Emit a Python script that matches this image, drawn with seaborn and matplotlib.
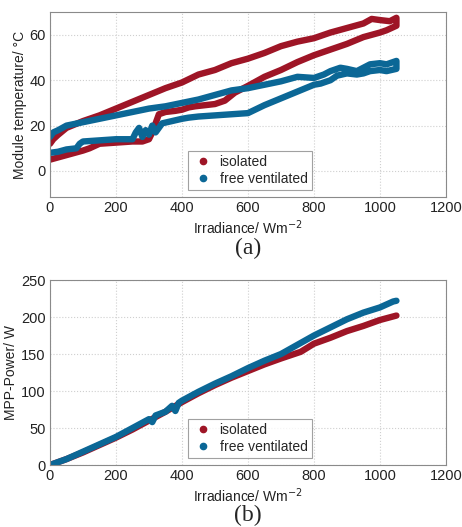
import matplotlib
matplotlib.use("Agg")
import matplotlib.pyplot as plt
import seaborn as sns
import pandas as pd
from matplotlib.lines import Line2D

# ---- data ----
# Module temperature, isolated: rising branch then falling branch
iso_up_x = [0, 10, 25, 50, 100, 150, 200, 250, 300, 350, 400, 450, 500, 550, 600, 650, 700, 750, 800, 850, 900, 950, 975, 1000, 1030, 1050]
iso_up_y = [12, 14, 16, 19, 22, 24.5, 27.5, 30.5, 33.5, 36.5, 39, 42.5, 44.5, 47.5, 49.5, 52, 55, 57, 58.5, 61, 63, 65, 67, 66.5, 66, 67.5]
iso_dn_x = [1050, 1020, 1000, 950, 900, 850, 800, 750, 700, 650, 600, 560, 530, 500, 470, 440, 420, 400, 380, 350, 330, 320, 310, 300, 280, 250, 200, 150, 120, 100, 50, 25, 0]
iso_dn_y = [64, 62, 61, 59, 56, 53.5, 51, 48, 44.5, 41.5, 37.5, 34.5, 31, 29.5, 29, 28.5, 28, 27, 26.5, 26, 25, 21, 17, 14, 13, 13, 12.5, 12, 10, 9, 7, 6, 5]

# Module temperature, free ventilated
fv_up_x = [0, 10, 25, 50, 100, 150, 200, 250, 300, 350, 400, 450, 500, 550, 600, 650, 700, 750, 800, 830, 850, 880, 900, 930, 950, 970, 1000, 1020, 1050]
fv_up_y = [15, 17, 18, 20, 21.5, 23, 24.5, 26, 27.5, 28.5, 30, 31.5, 33.5, 35.5, 36.5, 38, 39.5, 41.5, 41, 42.5, 44, 45.5, 45, 44, 45.5, 47, 47.5, 47, 48.5]
fv_dn_x = [1050, 1020, 1000, 970, 950, 930, 900, 870, 850, 820, 800, 750, 700, 650, 600, 550, 500, 450, 420, 400, 370, 340, 330, 320, 310, 300, 290, 280, 270, 260, 250, 200, 150, 100, 90, 80, 50, 25, 0]
fv_dn_y = [45, 44, 44.5, 44, 43, 42.5, 43, 42, 40, 38.5, 38, 35, 32, 29, 25.5, 25, 24.5, 24, 23.5, 23, 22, 21, 19, 17, 20, 16, 18, 15, 19, 17, 14, 14, 13.5, 13, 12, 10, 9.5, 8.5, 8]

# MPP power
p_iso_x = [0, 50, 100, 150, 200, 250, 300, 350, 400, 450, 500, 550, 600, 650, 700, 760, 800, 850, 900, 950, 1000, 1050]
p_iso_y = [0, 8, 17, 27, 37, 48, 60, 72, 85, 97, 108, 118, 127, 136, 144, 153, 164, 172, 181, 188, 196, 202]
p_fv_x = [0, 50, 100, 150, 200, 250, 300, 310, 320, 350, 370, 380, 390, 400, 450, 500, 550, 600, 650, 700, 760, 800, 850, 900, 950, 1000, 1040, 1050]
p_fv_y = [0, 8, 18, 28, 38, 50, 62, 58, 67, 72, 80, 73, 84, 87, 99, 110, 120, 131, 141, 150, 165, 175, 186, 197, 206, 213, 221, 222]

labels = ["isolated", "free ventilated"]
RED = "#9E1526"
BLUE = "#0B6796"

sns.set_style("whitegrid")
plt.rcParams["font.family"] = ["Liberation Sans", "DejaVu Sans"]

fig = plt.figure(figsize=(4.62, 5.27), dpi=100)
ax1 = fig.add_axes([0.1082, 0.626, 0.857, 0.351])
ax2 = fig.add_axes([0.1082, 0.1176, 0.857, 0.351])

LW = 4.6
def draw(ax, x, y, color):
    df = pd.DataFrame({"x": x, "y": y})
    sns.lineplot(data=df, x="x", y="y", sort=False, estimator=None, ax=ax,
                 color=color, lw=LW, solid_capstyle="round", solid_joinstyle="round")

draw(ax1, iso_up_x + iso_dn_x, iso_up_y + iso_dn_y, RED)
draw(ax1, fv_up_x + fv_dn_x, fv_up_y + fv_dn_y, BLUE)
draw(ax2, p_iso_x, p_iso_y, RED)
draw(ax2, p_fv_x, p_fv_y, BLUE)

for ax in (ax1, ax2):
    ax.set_xlim(0, 1200)
    ax.set_xticks(range(0, 1201, 200))
    ax.grid(True, color="#cfcfcf", linestyle=":", linewidth=0.8)
    for s in ax.spines.values():
        s.set_color("#8a8a8a")
        s.set_linewidth(0.8)
    ax.tick_params(labelsize=10.5, colors="#222222", length=0, pad=3)
    ax.set_xlabel("Irradiance/ Wm$^{-2}$", fontsize=10, labelpad=2, color="#222222")
    handles = [Line2D([], [], ls="", marker="o", ms=4.5, color=c) for c in (RED, BLUE)]
    leg = ax.legend(handles, labels, loc="lower left", bbox_to_anchor=(0.33, 0.0),
                    fontsize=10, frameon=True, fancybox=False, borderpad=0.3,
                    handletextpad=0.4, labelspacing=0.2, handlelength=1.6)
    leg.get_frame().set_edgecolor("#8a8a8a")
    leg.get_frame().set_linewidth(0.8)

ax1.set_ylim(-11.5, 70)
ax1.set_yticks([0, 20, 40, 60])
ax1.set_ylabel("Module temperature/ °C", fontsize=10, labelpad=2, color="#222222")
ax2.set_ylim(0, 250)
ax2.set_yticks(range(0, 251, 50))
ax2.set_ylabel("MPP-Power/ W", fontsize=10, labelpad=2, color="#222222")

fig.text(0.537, (527 - 248) / 527, "(a)", ha="center", va="center",
         fontsize=17, family=["Liberation Serif", "DejaVu Serif"])
fig.text(0.537, (527 - 515) / 527, "(b)", ha="center", va="center",
         fontsize=17, family=["Liberation Serif", "DejaVu Serif"])

fig.savefig("out.png", dpi=100)
